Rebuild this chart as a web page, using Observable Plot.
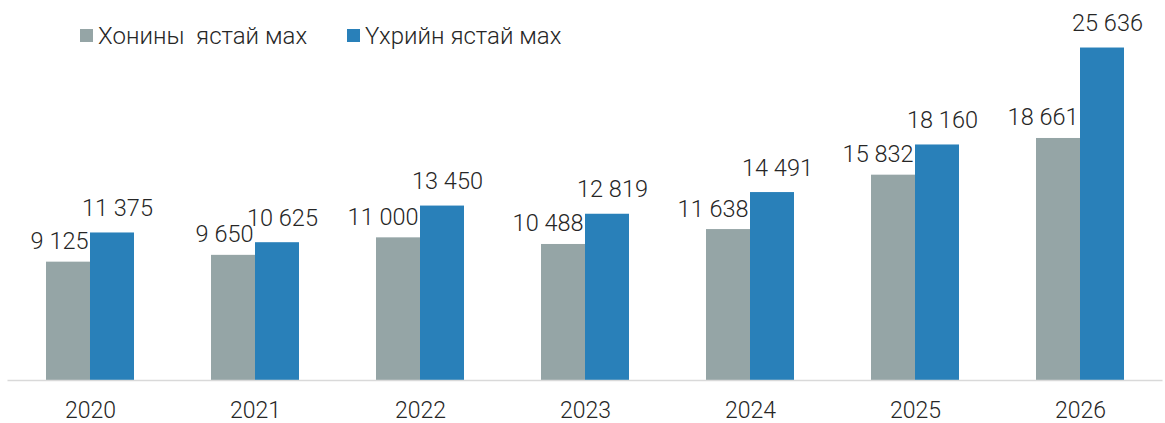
<!DOCTYPE html>
<html>
<head>
<meta charset="utf-8">
<script src="https://cdn.jsdelivr.net/npm/d3@7"></script>
<script src="https://cdn.jsdelivr.net/npm/@observablehq/plot@0.6"></script>
<style>
  html, body { margin: 0; padding: 0; background: #fff; }
  #wrap { position: relative; width: 1165px; height: 423px; font-family: Roboto, "Noto Sans", sans-serif; font-weight: 300; color: #262626; }
  .leg { position: absolute; top: 23.5px; display: flex; align-items: center; font-size: 24px; line-height: 24px; white-space: pre; }
  .sw { width: 13px; height: 13px; margin-right: 5px; }
</style>
</head>
<body>
<div id="wrap"></div>
<script>
const years = ["2020", "2021", "2022", "2023", "2024", "2025", "2026"];
const seriesNames = ["Хонины  ястай мах", "Үхрийн ястай мах"];
const muttonValues = [9125, 9650, 11000, 10488, 11638, 15832, 18661];
const beefValues = [11375, 10625, 13450, 12819, 14491, 18160, 25636];
const seriesColors = ["#95a5a6", "#2980b9"];

const fmt = v => d3.format(",")(v).replace(/,/g, " ");
const mutton = years.map((y, i) => ({year: y, value: muttonValues[i]}));
const beef = years.map((y, i) => ({year: y, value: beefValues[i]}));

const chart = Plot.plot({
  width: 1165,
  height: 423,
  marginLeft: 7.5,
  marginRight: 2.5,
  marginTop: 0,
  marginBottom: 43,
  style: {fontFamily: "Roboto, 'Noto Sans', sans-serif", fontSize: "23px", fontWeight: 300, color: "#262626", background: "transparent"},
  x: {domain: years, paddingInner: 0.4667, paddingOuter: 0.2333, round: false, label: null, tickSize: 0, tickPadding: 21},
  y: {domain: [0, 29300], axis: null},
  marks: [
    Plot.barY(mutton, {x: "year", y: "value", fill: seriesColors[0], insetRight: 44}),
    Plot.barY(beef, {x: "year", y: "value", fill: seriesColors[1], insetLeft: 44}),
    Plot.ruleY([0], {stroke: "#d9d9d9", strokeWidth: 1.5}),
    Plot.text(mutton, {x: "year", y: "value", text: d => fmt(d.value), textAnchor: "end", lineAnchor: "bottom", dx: -2, dy: -13, fill: "#262626", fontSize: 23.5}),
    Plot.text(beef, {x: "year", y: "value", text: d => fmt(d.value), textAnchor: "middle", lineAnchor: "bottom", dx: 27, dy: -17, fill: "#262626", fontSize: 23.5})
  ]
});

const wrap = document.getElementById("wrap");
wrap.appendChild(chart);

const legendLefts = [80, 347];
seriesNames.forEach((name, i) => {
  const item = document.createElement("div");
  item.className = "leg";
  item.style.left = legendLefts[i] + "px";
  const sw = document.createElement("div");
  sw.className = "sw";
  sw.style.background = seriesColors[i];
  const t = document.createElement("span");
  t.textContent = name;
  item.appendChild(sw);
  item.appendChild(t);
  wrap.appendChild(item);
});
</script>
</body>
</html>
